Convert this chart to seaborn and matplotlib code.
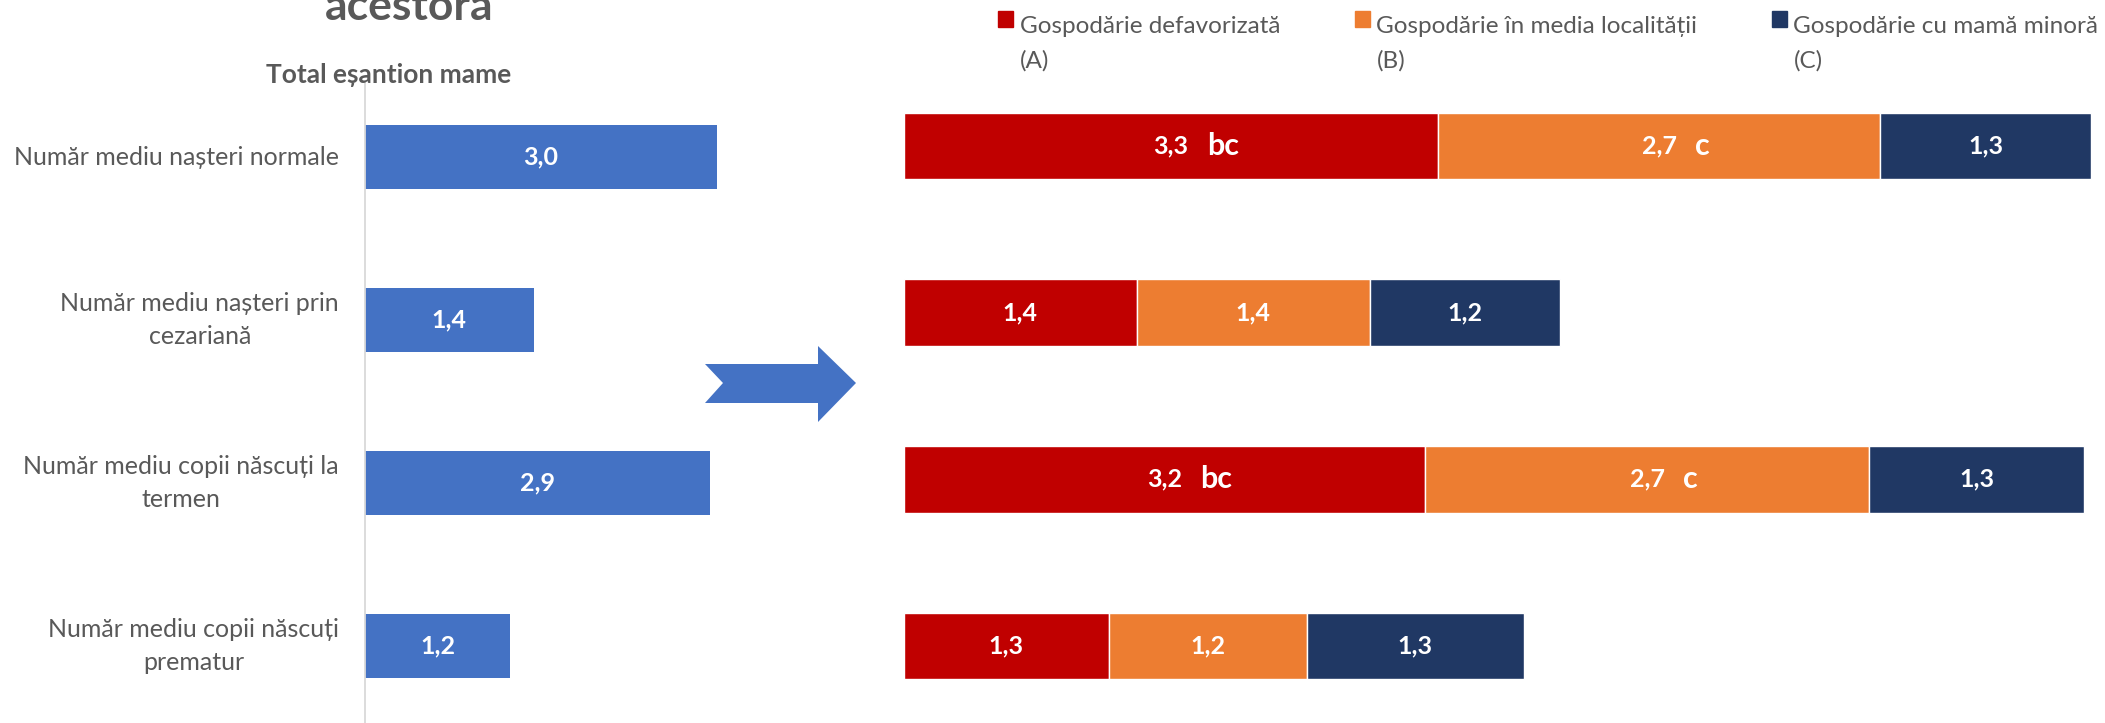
import numpy as np
import matplotlib
matplotlib.use("Agg")
import matplotlib.pyplot as plt
import seaborn as sns
from matplotlib.patches import Polygon, Rectangle, Patch
from matplotlib.legend_handler import HandlerPatch

# data
categories = [
    "Număr mediu nașteri normale",
    "Număr mediu nașteri prin\ncezariană",
    "Număr mediu copii născuți la\ntermen",
    "Număr mediu copii născuți\nprematur",
]
total_mame = [3.0, 1.44, 2.94, 1.24]

series_names = [
    "Gospodărie defavorizată\n(A)",
    "Gospodărie în media localității\n(B)",
    "Gospodărie cu mamă minoră\n(C)",
]
grp_a = [3.3, 1.44, 3.22, 1.27]
grp_b = [2.73, 1.44, 2.74, 1.22]
grp_c = [1.3, 1.17, 1.33, 1.34]
letters_a = ["bc", "", "bc", ""]
letters_b = ["c", "", "c", ""]
letters_c = ["", "", "", ""]

series_colors = ["#C00000", "#ED7D31", "#203864"]
blue = "#4472C4"
grey = "#595959"

W, H = 2105, 723


def fx(px):
    return px / W


def fy(py):
    return 1 - py / H


def fmt(v):
    return f"{v:.1f}".replace(".", ",")


sns.set_style("white")
plt.rcParams["font.family"] = ["Lato", "DejaVu Sans"]

fig = plt.figure(figsize=(W / 100, H / 100), dpi=100)

# left panel: whole sample
ax1 = fig.add_axes([fx(365), 0, fx(787) - fx(365), (H - 83) / H])
sns.barplot(x=total_mame, y=categories, orient="h", color=blue, saturation=1,
            width=0.39, linewidth=0, ax=ax1)
ax1.bar_label(ax1.containers[0], labels=[fmt(v) for v in total_mame],
              label_type="center", color="white", fontweight="bold", fontsize=18)
ax1.set_xlim(0, 3.6)
ax1.set_ylim(3.472, -0.454)
ax1.set(xlabel="", ylabel="")
ax1.set_xticks([])
ax1.tick_params(axis="y", length=0, pad=18.7, labelsize=18, labelcolor=grey)
for t in ax1.get_yticklabels():
    t.set_multialignment("center")
    t.set_verticalalignment("center")
    t.set_linespacing(1.55)
for s in ["top", "right", "bottom"]:
    ax1.spines[s].set_visible(False)
ax1.spines["left"].set_color("#D9D9D9")
ax1.spines["left"].set_linewidth(1.3)

# right panel: stacked by household type
ax2 = fig.add_axes([fx(903.5), 0, fx(2103.5) - fx(903.5), (H - 63) / H])
ypos = np.arange(len(categories))
left = np.zeros(len(categories))
for vals, name, color, letters in zip([grp_a, grp_b, grp_c], series_names,
                                      series_colors, [letters_a, letters_b, letters_c]):
    vals = np.array(vals)
    bars = ax2.barh(ypos, vals, left=left, height=0.40, color=color, label=name)
    ax2.bar_label(bars, labels=[fmt(v) for v in vals], label_type="center",
                  color="white", fontweight="bold", fontsize=18)
    for y, l, v, let in zip(ypos, left, vals, letters):
        if let:
            ax2.annotate(let, (l + v / 2, y), xytext=(26, 0), textcoords="offset points",
                         ha="left", va="center", color="white", fontweight="bold",
                         fontsize=22)
    left += vals
ax2.set_xlim(0, 1200 / 162)
ax2.set_ylim(3.462, -0.498)
ax2.axis("off")


def top_square(legend, orig_handle, xdescent, ydescent, width, height, fontsize):
    return Rectangle((-xdescent, -ydescent + 1.0 * fontsize), height, height)


handles = [Patch(color=c) for c in series_colors]
leg = fig.legend(handles, series_names, loc="upper left",
                 bbox_to_anchor=(fx(998), fy(16)), ncol=3, frameon=False,
                 borderpad=0, borderaxespad=0, handlelength=0.6, handleheight=0.6,
                 handletextpad=0.3, columnspacing=3.05, labelcolor=grey,
                 prop={"size": 17.5},
                 handler_map={Patch: HandlerPatch(patch_func=top_square)})
for t in leg.get_texts():
    t.set_linespacing(1.72)

# titles
fig.text(fx(409), fy(20), "acestora", ha="center", va="baseline",
         fontsize=32, fontweight="bold", color=grey)
fig.text(fx(389), fy(83), "Total eșantion mame", ha="center", va="baseline",
         fontsize=19, fontweight="bold", color=grey)

# arrow between the two panels
arrow_px = [(705, 364), (818, 364), (818, 346), (856, 383), (818, 422),
            (818, 403), (705, 403), (723, 383)]
fig.add_artist(Polygon([(fx(x), fy(y)) for x, y in arrow_px], closed=True,
                       transform=fig.transFigure, color=blue, lw=0))

fig.savefig("out.png", dpi=100)
